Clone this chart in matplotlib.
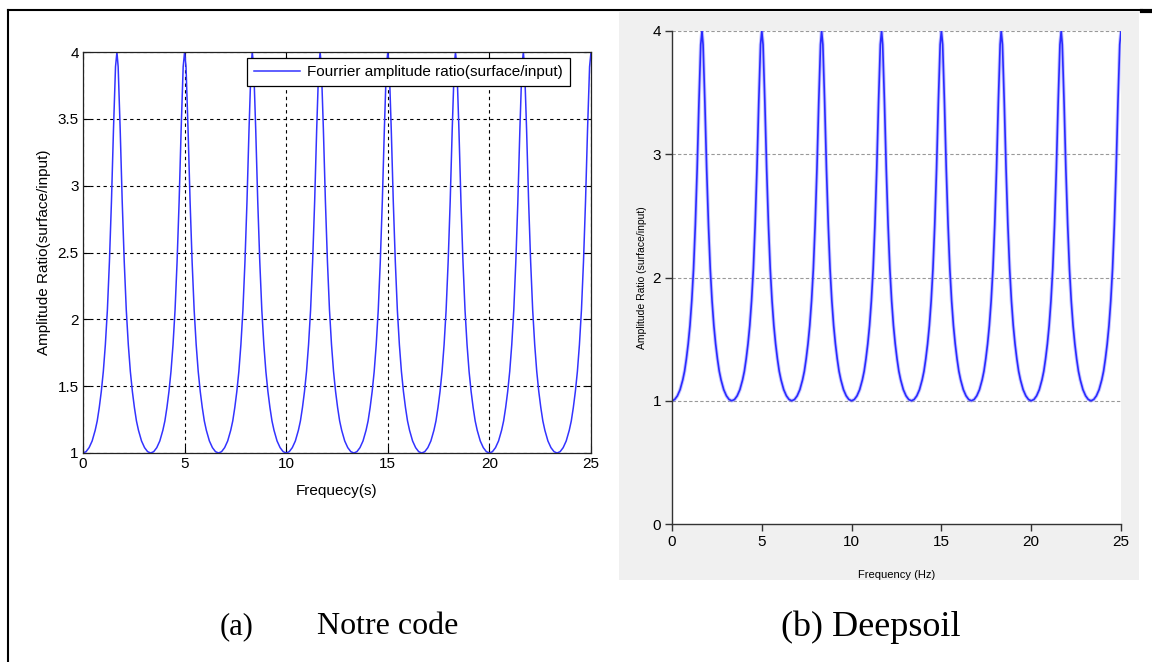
import matplotlib
matplotlib.use("Agg")
import matplotlib.pyplot as plt
from matplotlib.lines import Line2D
from matplotlib.patches import Rectangle

# ---- data ----
freq = [
    0.00, 0.15, 0.30, 0.45, 0.60, 0.70, 0.80, 0.90, 1.00, 1.10, 1.20, 1.30, 1.40, 1.50, 1.60, 1.67, 1.73, 1.83, 1.93, 2.03, 2.13, 2.23, 2.33, 2.43, 2.53, 2.63, 2.73, 2.88, 3.03, 3.18,
    3.33, 3.48, 3.63, 3.78, 3.93, 4.03, 4.13, 4.23, 4.33, 4.43, 4.53, 4.63, 4.73, 4.83, 4.93, 5.00, 5.07, 5.17, 5.27, 5.37, 5.47, 5.57, 5.67, 5.77, 5.87, 5.97, 6.07, 6.22, 6.37, 6.52,
    6.67, 6.82, 6.97, 7.12, 7.27, 7.37, 7.47, 7.57, 7.67, 7.77, 7.87, 7.97, 8.07, 8.17, 8.27, 8.33, 8.40, 8.50, 8.60, 8.70, 8.80, 8.90, 9.00, 9.10, 9.20, 9.30, 9.40, 9.55, 9.70, 9.85,
    10.00, 10.15, 10.30, 10.45, 10.60, 10.70, 10.80, 10.90, 11.00, 11.10, 11.20, 11.30, 11.40, 11.50, 11.60, 11.67, 11.73, 11.83, 11.93, 12.03, 12.13, 12.23, 12.33, 12.43, 12.53, 12.63, 12.73, 12.88, 13.03, 13.18,
    13.33, 13.48, 13.63, 13.78, 13.93, 14.03, 14.13, 14.23, 14.33, 14.43, 14.53, 14.63, 14.73, 14.83, 14.93, 15.00, 15.07, 15.17, 15.27, 15.37, 15.47, 15.57, 15.67, 15.77, 15.87, 15.97, 16.07, 16.22, 16.37, 16.52,
    16.67, 16.82, 16.97, 17.12, 17.27, 17.37, 17.47, 17.57, 17.67, 17.77, 17.87, 17.97, 18.07, 18.17, 18.27, 18.33, 18.40, 18.50, 18.60, 18.70, 18.80, 18.90, 19.00, 19.10, 19.20, 19.30, 19.40, 19.55, 19.70, 19.85,
    20.00, 20.15, 20.30, 20.45, 20.60, 20.70, 20.80, 20.90, 21.00, 21.10, 21.20, 21.30, 21.40, 21.50, 21.60, 21.67, 21.73, 21.83, 21.93, 22.03, 22.13, 22.23, 22.33, 22.43, 22.53, 22.63, 22.73, 22.88, 23.03, 23.18,
    23.33, 23.48, 23.63, 23.78, 23.93, 24.03, 24.13, 24.23, 24.33, 24.43, 24.53, 24.63, 24.73, 24.83, 24.93, 25.00,
]
ratio = [
    1.00, 1.01, 1.04, 1.09, 1.17, 1.24, 1.34, 1.46, 1.61, 1.81, 2.07, 2.43, 2.88, 3.42, 3.89, 4.00, 3.89, 3.42, 2.88, 2.43, 2.07, 1.81, 1.61, 1.46, 1.34, 1.24, 1.17, 1.09, 1.04, 1.01,
    1.00, 1.01, 1.04, 1.09, 1.17, 1.24, 1.34, 1.46, 1.61, 1.81, 2.07, 2.43, 2.88, 3.42, 3.89, 4.00, 3.89, 3.42, 2.88, 2.43, 2.07, 1.81, 1.61, 1.46, 1.34, 1.24, 1.17, 1.09, 1.04, 1.01,
    1.00, 1.01, 1.04, 1.09, 1.17, 1.24, 1.34, 1.46, 1.61, 1.81, 2.07, 2.43, 2.88, 3.42, 3.89, 4.00, 3.89, 3.42, 2.88, 2.43, 2.07, 1.81, 1.61, 1.46, 1.34, 1.24, 1.17, 1.09, 1.04, 1.01,
    1.00, 1.01, 1.04, 1.09, 1.17, 1.24, 1.34, 1.46, 1.61, 1.81, 2.07, 2.43, 2.88, 3.42, 3.89, 4.00, 3.89, 3.42, 2.88, 2.43, 2.07, 1.81, 1.61, 1.46, 1.34, 1.24, 1.17, 1.09, 1.04, 1.01,
    1.00, 1.01, 1.04, 1.09, 1.17, 1.24, 1.34, 1.46, 1.61, 1.81, 2.07, 2.43, 2.88, 3.42, 3.89, 4.00, 3.89, 3.42, 2.88, 2.43, 2.07, 1.81, 1.61, 1.46, 1.34, 1.24, 1.17, 1.09, 1.04, 1.01,
    1.00, 1.01, 1.04, 1.09, 1.17, 1.24, 1.34, 1.46, 1.61, 1.81, 2.07, 2.43, 2.88, 3.42, 3.89, 4.00, 3.89, 3.42, 2.88, 2.43, 2.07, 1.81, 1.61, 1.46, 1.34, 1.24, 1.17, 1.09, 1.04, 1.01,
    1.00, 1.01, 1.04, 1.09, 1.17, 1.24, 1.34, 1.46, 1.61, 1.81, 2.07, 2.43, 2.88, 3.42, 3.89, 4.00, 3.89, 3.42, 2.88, 2.43, 2.07, 1.81, 1.61, 1.46, 1.34, 1.24, 1.17, 1.09, 1.04, 1.01,
    1.00, 1.01, 1.04, 1.09, 1.17, 1.24, 1.34, 1.46, 1.61, 1.81, 2.07, 2.43, 2.88, 3.42, 3.89, 4.00,
]
left_yticks = [1, 1.5, 2, 2.5, 3, 3.5, 4]
left_yticklabels = ["1", "1.5", "2", "2.5", "3", "3.5", "4"]
xticks = [0, 5, 10, 15, 20, 25]
right_yticks = [0, 1, 2, 3, 4]

W, H = 1152, 662
fig = plt.figure(figsize=(W / 100, H / 100), dpi=100)
fig.patch.set_facecolor("white")

def fx(px):
    return px / W

def fy(py):
    return 1 - py / H

# ---- table border ----
fig.add_artist(Line2D([fx(8), fx(1142)], [fy(10), fy(10)], color="black", lw=1.5))
fig.add_artist(Line2D([fx(8), fx(8)], [fy(10), fy(662)], color="black", lw=1.5))
fig.add_artist(Line2D([fx(1142), fx(1152)], [fy(11), fy(11)], color="black", lw=3))

sans = "Liberation Sans"

# ---- left panel (MATLAB style) ----
axL = fig.add_axes([fx(83), fy(453), fx(591) - fx(83), fy(52) - fy(453)])
axL.plot(freq, ratio, color="#3333ff", lw=1.1,
         label="Fourrier amplitude ratio(surface/input)")
axL.set_xlim(0, 25)
axL.set_ylim(1, 4)
axL.set_xticks(xticks)
axL.set_xticklabels([str(t) for t in xticks])
axL.set_yticks(left_yticks)
axL.set_yticklabels(left_yticklabels)
axL.grid(True, color="black", linestyle=(0, (3, 3)), lw=0.8)
axL.tick_params(direction="in", top=True, right=True, length=5, width=0.8,
                labelsize=11, pad=3)
for lab in axL.get_xticklabels() + axL.get_yticklabels():
    lab.set_fontfamily(sans)
for s in axL.spines.values():
    s.set_linewidth(0.9)
    s.set_color("#222222")
axL.set_xlabel("Frequecy(s)", fontsize=11, family=sans, labelpad=9)
axL.set_ylabel("Amplitude Ratio(surface/input)", fontsize=11, family=sans, labelpad=5)
leg = axL.legend(loc="upper right", bbox_to_anchor=((570 - 83) / 508, (453 - 58) / 401),
                 borderaxespad=0, fancybox=False, framealpha=1, edgecolor="black",
                 prop={"family": sans, "size": 11}, handlelength=3.0,
                 borderpad=0.45, handletextpad=0.5)
leg.get_frame().set_linewidth(0.9)

# ---- right panel (Deepsoil style) ----
fig.add_artist(Rectangle((fx(619), fy(580)), fx(1139) - fx(619), fy(12) - fy(580),
                         transform=fig.transFigure, facecolor="#f0f0f0",
                         edgecolor="none", zorder=0))
axR = fig.add_axes([fx(672), fy(524), fx(1121) - fx(672), fy(31) - fy(524)])
axR.set_facecolor("white")
axR.plot(freq, ratio, color="#8080ff", lw=2.6, alpha=0.45, solid_capstyle="round")
axR.plot(freq, ratio, color="#2a2aff", lw=1.2)
axR.set_xlim(0, 25)
axR.set_ylim(0, 4)
axR.set_xticks(xticks)
axR.set_yticks(right_yticks)
axR.set_yticklabels([str(t) for t in right_yticks])
for yv in right_yticks[1:]:
    axR.axhline(yv, color="#999999", linestyle=(0, (3, 2)), lw=0.8, zorder=0.5)
axR.spines["top"].set_visible(False)
axR.spines["right"].set_visible(False)
for s in ("left", "bottom"):
    axR.spines[s].set_color("#333333")
    axR.spines[s].set_linewidth(1.0)
axR.tick_params(direction="out", length=5, width=1.0, labelsize=11, pad=3,
                color="#333333")
for lab in axR.get_xticklabels() + axR.get_yticklabels():
    lab.set_fontfamily(sans)
axR.set_xlabel("Frequency (Hz)", fontsize=8, family=sans, labelpad=15)
axR.set_ylabel("Amplitude Ratio (surface/input)", fontsize=7.5, family=sans, labelpad=4)

# ---- captions ----
serif = "Liberation Serif"
fig.text(fx(237), fy(627), "(a)", ha="center", va="center", fontsize=22, family=serif)
fig.text(fx(388), fy(627), "Notre code", ha="center", va="center", fontsize=23, family=serif)
fig.text(fx(871), fy(627), "(b) Deepsoil", ha="center", va="center", fontsize=26, family=serif)

fig.savefig("out.png", dpi=100)
